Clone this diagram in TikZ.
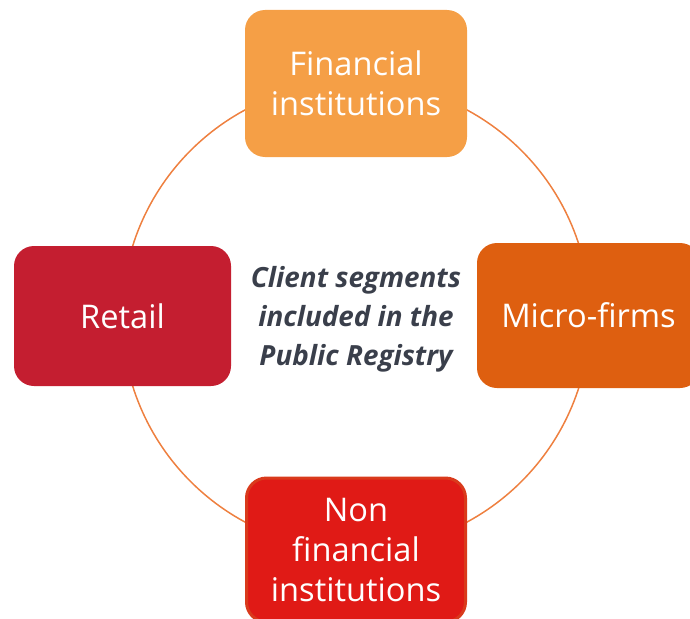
\documentclass[tikz,border=0pt]{standalone}
\usepackage{fontspec}
\setmainfont{Open Sans}
\definecolor{ringc}{HTML}{EE8040}
\definecolor{finc}{HTML}{F59F46}
\definecolor{retc}{HTML}{C41E30}
\definecolor{micc}{HTML}{DE5F10}
\definecolor{nonc}{HTML}{E01A16}
\definecolor{nonb}{HTML}{D93A1C}
\definecolor{midc}{HTML}{3A3F4B}
\tikzset{
  seg/.style={rounded corners=20pt, text=white, align=center,
    font=\fontsize{32.6}{40}\selectfont, inner sep=0pt},
}
\begin{document}
\begin{tikzpicture}[x=1pt,y=-1pt]
\useasboundingbox (0,0) rectangle (690,618);
\coordinate (c) at (356,316);
\draw[ringc, line width=1.5pt] (c) circle (234);
\node[seg, fill=finc, minimum width=222pt, minimum height=147pt] (fin) at (356,83.5) {Financial\\institutions};
\node[seg, fill=retc, minimum width=217pt, minimum height=140pt] (ret) at (122.5,316) {Retail};
\node[seg, fill=micc, minimum width=223pt, minimum height=145pt] (mic) at (588.5,315.5) {Micro-firms};
\node[seg, fill=nonc, draw=nonb, line width=3pt, minimum width=219pt, minimum height=144pt] (non) at (356,550) {Non\\financial\\institutions};
\node[text=midc, align=center, font=\fontsize{27.8}{39}\selectfont\bfseries\itshape] (mid) at (356,319) {Client segments\\included in the\\Public Registry};
\end{tikzpicture}
\end{document}
